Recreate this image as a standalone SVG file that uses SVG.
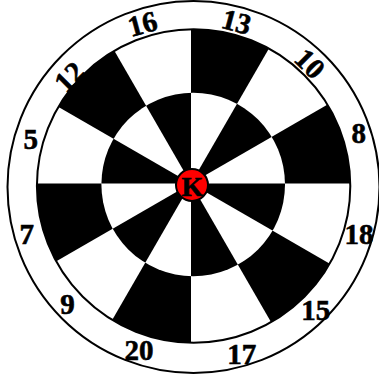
<svg xmlns="http://www.w3.org/2000/svg" width="379" height="380" viewBox="0 0 379 380">
<style>
.num{font-family:"Liberation Serif","Times New Roman",serif;font-weight:bold;font-size:29px;fill:#000;stroke:#000;stroke-width:0.6;text-anchor:middle}
.ring{fill:none;stroke:#000;stroke-width:2}
.blk{fill:#000}
</style>
<defs>
<clipPath id="boardClip"><circle cx="193.6" cy="186" r="156.7"/></clipPath>
<clipPath id="innerClip"><circle cx="193.2" cy="184.5" r="91.8"/></clipPath>
</defs>
<rect width="379" height="380" fill="#fff"/>
<circle class="ring" cx="193.5" cy="187" r="186"/>
<circle cx="193.6" cy="186" r="156.7" fill="#fff"/>
<g id="outer-sectors" clip-path="url(#boardClip)">
<path class="blk" d="M191,183.5 L411,183.5 L381.5,73.5 Z"/>
<path class="blk" d="M191,183.5 L301,-7 L191,-36.5 Z"/>
<path class="blk" d="M191,183.5 L81,-7 L0.5,73.5 Z"/>
<path class="blk" d="M191,183.5 L-29,183.5 L0.5,293.5 Z"/>
<path class="blk" d="M191,183.5 L81,374 L191,403.5 Z"/>
<path class="blk" d="M191,183.5 L301,374 L381.5,293.5 Z"/>
</g>
<circle cx="193.2" cy="184.5" r="91.8" fill="#fff"/>
<g id="inner-sectors" clip-path="url(#innerClip)">
<path class="blk" d="M191,183.5 L381.5,73.5 L301,-7 Z"/>
<path class="blk" d="M191,183.5 L191,-36.5 L81,-7 Z"/>
<path class="blk" d="M191,183.5 L0.5,73.5 L-29,183.5 Z"/>
<path class="blk" d="M191,183.5 L0.5,293.5 L81,374 Z"/>
<path class="blk" d="M191,183.5 L191,403.5 L301,374 Z"/>
<path class="blk" d="M191,183.5 L381.5,293.5 L411,183.5 Z"/>
</g>
<circle class="ring" cx="193.6" cy="186" r="156.7"/>
<g id="numbers">
<text class="num" x="142.5" y="33.5" transform="rotate(-15 142.5 23.5)">16</text>
<text class="num" x="236.5" y="31.5" transform="rotate(15 236.5 21.5)">13</text>
<text class="num" x="310" y="73.5" transform="rotate(45 310 63.5)">10</text>
<text class="num" x="358.8" y="142.5">8</text>
<text class="num" x="359" y="243.5">18</text>
<text class="num" x="315.8" y="320">15</text>
<text class="num" x="241.7" y="364">17</text>
<text class="num" x="139" y="360">20</text>
<text class="num" x="67.5" y="314">9</text>
<text class="num" x="26.7" y="243.5">7</text>
<text class="num" x="30.8" y="149.2">5</text>
<text class="num" x="69.2" y="86.7" transform="rotate(-45 69.2 76.7)">12</text>
</g>
<g id="center-K">
<circle cx="192" cy="185" r="16" fill="#ff0000" stroke="#000" stroke-width="2"/>
<text class="num" x="192.5" y="195.5" style="font-size:28px">K</text>
</g>
</svg>
